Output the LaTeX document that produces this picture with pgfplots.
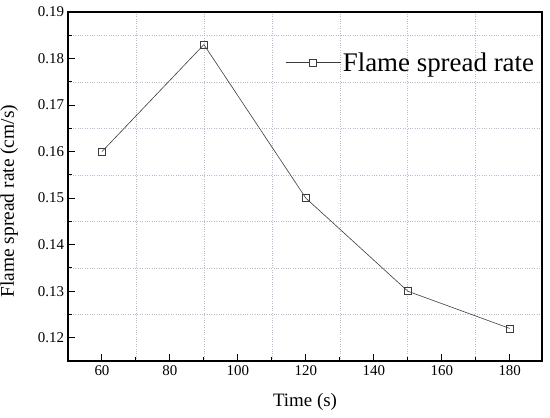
\documentclass[border=0pt]{standalone}
\usepackage{pgfplots}
\pgfplotsset{compat=1.18}
\usepackage{fontspec}
\setmainfont{Liberation Serif}
\definecolor{gridc}{RGB}{185,185,215}
\definecolor{linec}{RGB}{60,60,60}
\begin{document}
\begin{tikzpicture}[x=1bp,y=1bp]
\begin{axis}[
  at={(0bp,0bp)}, anchor=south west,
  scale only axis,
  width=474bp, height=349bp,
  xmin=50, xmax=189.5, ymin=0.115, ymax=0.19,
  xtick={60,80,...,180},
  ytick={0.12,0.13,...,0.19},
  minor xtick={70,90,...,170},
  minor ytick={0.125,0.135,...,0.185},
  xtick pos=bottom, ytick pos=left,
  grid=minor,
  minor grid style={gridc, dotted, line width=0.6bp},
  tick align=inside,
  major tick length=7bp,
  minor tick length=4bp,
  tick style={black, line width=1bp},
  axis line style={black, line width=1.2bp},
  every axis/.append style={line width=1.2bp},
  xticklabel style={font=\fontsize{15}{15}\selectfont, yshift=-1bp},
  yticklabel style={font=\fontsize{15}{15}\selectfont, /pgf/number format/fixed, /pgf/number format/precision=2, /pgf/number format/fixed zerofill},
  /pgf/number format/assume math mode=true,
  xlabel={Time (s)},
  ylabel={Flame spread rate (cm/s)},
  xlabel style={font=\fontsize{19}{19}\selectfont, at={(axis description cs:0.5,0)}, anchor=north, yshift=-28bp},
  ylabel style={font=\fontsize{19.5}{19.5}\selectfont, at={(axis description cs:0,0.458)}, anchor=south, yshift=46bp},
  legend style={draw=none, fill=none, at={(axis description cs:0.995,0.855)}, anchor=east, font=\fontsize{27}{27}\selectfont, legend cell align=left},
  legend image code/.code={
    \draw[linec, line width=0.6bp] (-2bp,0bp) -- (53bp,0bp);
    \draw[linec, line width=0.6bp, fill=white] (22bp,-3.5bp) rectangle (29bp,3.5bp);
  },
]
\addplot[linec, line width=0.6bp, mark=square, mark size=3.5bp, mark options={solid, fill=white, line width=0.6bp}]
  coordinates {(60,0.160) (90,0.183) (120,0.150) (150,0.130) (180,0.122)};
\addlegendentry{Flame spread rate}
\end{axis}
\pgfresetboundingbox
\path[use as bounding box] (-68bp,-57bp) rectangle (482bp,361bp);
\end{tikzpicture}
\end{document}
